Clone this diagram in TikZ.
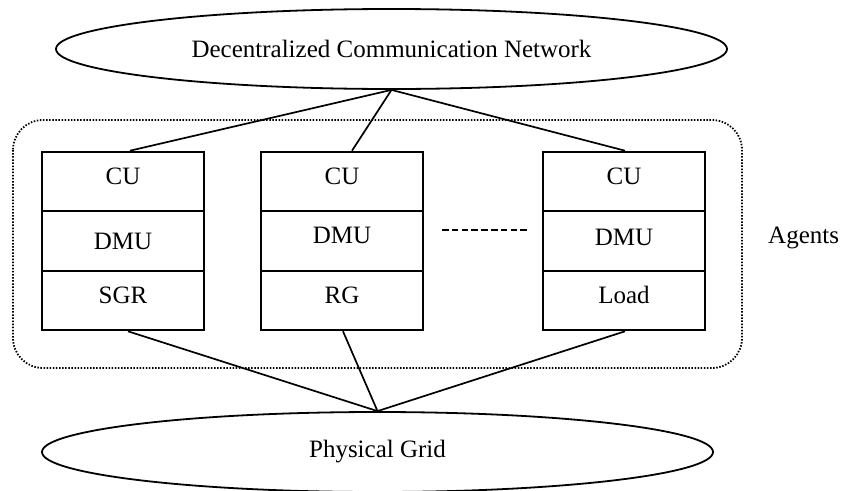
\documentclass[tikz,border=0pt]{standalone}
\usepackage{fontspec}
\setmainfont{Liberation Serif}
\usetikzlibrary{shapes.geometric}
\begin{document}
\begin{tikzpicture}[x=1pt,y=-1pt,
  every node/.style={font=\fontsize{25}{30}\selectfont},
  layer/.style={ellipse, draw, line width=1.8pt, minimum width=671pt,
    minimum height=80pt, inner sep=0pt},
  cell/.style={rectangle, draw, line width=2.1pt, minimum width=162pt,
    minimum height=59.5pt, inner sep=0pt, text height=18pt, text depth=11.4pt},
  link/.style={line width=1.7pt},
  group/.style={line width=1.8pt, dash pattern=on 1.5pt off 1.6pt,
    rounded corners=30pt},
  gap/.style={line width=1.6pt, dash pattern=on 6.5pt off 3.3pt}
]
\useasboundingbox (0,0) rectangle (850,490);

% agent group boundary
\draw[group] (13,120) rectangle (742,368);

% network and grid layers
\node[layer] (net) at (391.5,49) {Decentralized Communication Network};
\node[layer] (grid) at (377.5,452) {Physical Grid};

% agent 1
\node[cell] (cu1)  at (123,181.5)  {CU};
\node[cell, text depth=1.4pt] (dmu1) at (123,241) {DMU};
\node[cell] (sgr)  at (123,300.5)  {SGR};
% agent 2
\node[cell] (cu2)  at (342,181.5)  {CU};
\node[cell, text depth=13.4pt] (dmu2) at (342,241) {DMU};
\node[cell] (rg)   at (342,300.5)  {RG};
% agent n
\node[cell] (cu3)  at (624,181.5)  {CU};
\node[cell, text depth=9.4pt] (dmu3) at (624,241) {DMU};
\node[cell] (load) at (624,300.5)  {Load};

% ellipsis between agents
\coordinate (gapl) at (442,230);
\coordinate (gapr) at (530,230);
\draw[gap] (gapl) -- (gapr);

\node[anchor=base west, inner sep=0pt] (agents) at (768,243) {Agents};

% links to the communication network
\draw[link] (net.south) -- ([xshift=7pt]cu1.north);
\draw[link] (net.south) -- ([xshift=10pt]cu2.north);
\draw[link] (net.south) -- ([xshift=1pt]cu3.north);

% links to the physical grid
\draw[link] ([xshift=5pt]sgr.south) -- (grid.north);
\draw[link] ([xshift=1pt]rg.south) -- (grid.north);
\draw[link] ([xshift=1pt]load.south) -- (grid.north);
\end{tikzpicture}
\end{document}
